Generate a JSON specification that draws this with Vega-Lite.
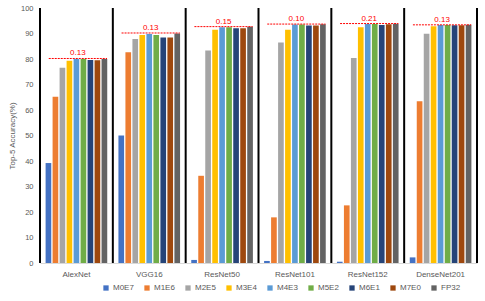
{
  "$schema": "https://vega.github.io/schema/vega-lite/v6.json",
  "width": 437,
  "height": 255,
  "autosize": {"type": "none"},
  "padding": {"left": 40, "top": 8, "right": 8, "bottom": 38},
  "background": "white",
  "config": {
    "view": {"stroke": null},
    "font": "Liberation Sans",
    "axisX": {"labelAngle": 0, "labelFontSize": 8, "labelColor": "#595959", "ticks": false, "domainColor": "#d9d9d9", "labelPadding": 7, "title": null},
    "axisY": {"titleFontSize": 8, "titleFontWeight": "normal", "titleColor": "#595959", "titlePadding": 4, "labelFontSize": 7.5, "labelColor": "#595959", "labelPadding": 7, "ticks": false, "domain": false, "grid": false}
  },
  "datasets": {
    "acc": [
      {"model": "AlexNet", "fmt": "M0E7", "acc": 39.2},
      {"model": "AlexNet", "fmt": "M1E6", "acc": 65.2},
      {"model": "AlexNet", "fmt": "M2E5", "acc": 76.6},
      {"model": "AlexNet", "fmt": "M3E4", "acc": 79.3},
      {"model": "AlexNet", "fmt": "M4E3", "acc": 80.0},
      {"model": "AlexNet", "fmt": "M5E2", "acc": 80.0},
      {"model": "AlexNet", "fmt": "M6E1", "acc": 79.6},
      {"model": "AlexNet", "fmt": "M7E0", "acc": 79.5},
      {"model": "AlexNet", "fmt": "FP32", "acc": 80.0},
      {"model": "VGG16", "fmt": "M0E7", "acc": 50.0},
      {"model": "VGG16", "fmt": "M1E6", "acc": 82.6},
      {"model": "VGG16", "fmt": "M2E5", "acc": 87.8},
      {"model": "VGG16", "fmt": "M3E4", "acc": 89.4},
      {"model": "VGG16", "fmt": "M4E3", "acc": 89.8},
      {"model": "VGG16", "fmt": "M5E2", "acc": 89.4},
      {"model": "VGG16", "fmt": "M6E1", "acc": 88.4},
      {"model": "VGG16", "fmt": "M7E0", "acc": 88.4},
      {"model": "VGG16", "fmt": "FP32", "acc": 90.0},
      {"model": "ResNet50", "fmt": "M0E7", "acc": 1.2},
      {"model": "ResNet50", "fmt": "M1E6", "acc": 34.2},
      {"model": "ResNet50", "fmt": "M2E5", "acc": 83.3},
      {"model": "ResNet50", "fmt": "M3E4", "acc": 91.5},
      {"model": "ResNet50", "fmt": "M4E3", "acc": 92.5},
      {"model": "ResNet50", "fmt": "M5E2", "acc": 92.5},
      {"model": "ResNet50", "fmt": "M6E1", "acc": 92.1},
      {"model": "ResNet50", "fmt": "M7E0", "acc": 92.1},
      {"model": "ResNet50", "fmt": "FP32", "acc": 92.6},
      {"model": "ResNet101", "fmt": "M0E7", "acc": 0.8},
      {"model": "ResNet101", "fmt": "M1E6", "acc": 17.9},
      {"model": "ResNet101", "fmt": "M2E5", "acc": 86.5},
      {"model": "ResNet101", "fmt": "M3E4", "acc": 91.5},
      {"model": "ResNet101", "fmt": "M4E3", "acc": 93.5},
      {"model": "ResNet101", "fmt": "M5E2", "acc": 93.5},
      {"model": "ResNet101", "fmt": "M6E1", "acc": 93.1},
      {"model": "ResNet101", "fmt": "M7E0", "acc": 93.1},
      {"model": "ResNet101", "fmt": "FP32", "acc": 93.6},
      {"model": "ResNet152", "fmt": "M0E7", "acc": 0.5},
      {"model": "ResNet152", "fmt": "M1E6", "acc": 22.6},
      {"model": "ResNet152", "fmt": "M2E5", "acc": 80.4},
      {"model": "ResNet152", "fmt": "M3E4", "acc": 92.5},
      {"model": "ResNet152", "fmt": "M4E3", "acc": 93.7},
      {"model": "ResNet152", "fmt": "M5E2", "acc": 93.7},
      {"model": "ResNet152", "fmt": "M6E1", "acc": 93.3},
      {"model": "ResNet152", "fmt": "M7E0", "acc": 93.6},
      {"model": "ResNet152", "fmt": "FP32", "acc": 93.8},
      {"model": "DenseNet201", "fmt": "M0E7", "acc": 2.2},
      {"model": "DenseNet201", "fmt": "M1E6", "acc": 63.4},
      {"model": "DenseNet201", "fmt": "M2E5", "acc": 89.9},
      {"model": "DenseNet201", "fmt": "M3E4", "acc": 92.8},
      {"model": "DenseNet201", "fmt": "M4E3", "acc": 93.3},
      {"model": "DenseNet201", "fmt": "M5E2", "acc": 93.3},
      {"model": "DenseNet201", "fmt": "M6E1", "acc": 93.2},
      {"model": "DenseNet201", "fmt": "M7E0", "acc": 93.2},
      {"model": "DenseNet201", "fmt": "FP32", "acc": 93.4}
    ],
    "refs": [
      {"model": "AlexNet", "acc": 80.2, "label": "0.13"},
      {"model": "VGG16", "acc": 90.2, "label": "0.13"},
      {"model": "ResNet50", "acc": 92.7, "label": "0.15"},
      {"model": "ResNet101", "acc": 93.7, "label": "0.10"},
      {"model": "ResNet152", "acc": 93.9, "label": "0.21"},
      {"model": "DenseNet201", "acc": 93.4, "label": "0.13"}
    ],
    "last": [{"model": "DenseNet201"}]
  },
  "layer": [
    {
      "data": {"name": "acc"},
      "mark": {"type": "bar"},
      "encoding": {
        "x": {
          "field": "model", "type": "nominal",
          "scale": {"domain": ["AlexNet", "VGG16", "ResNet50", "ResNet101", "ResNet152", "DenseNet201"], "paddingInner": 0, "paddingOuter": 0}
        },
        "xOffset": {
          "field": "fmt", "type": "nominal",
          "scale": {"domain": ["M0E7", "M1E6", "M2E5", "M3E4", "M4E3", "M5E2", "M6E1", "M7E0", "FP32"], "paddingInner": 0.19, "paddingOuter": 0.8}
        },
        "y": {
          "field": "acc", "type": "quantitative",
          "scale": {"domain": [0, 100], "nice": false},
          "title": "Top-5 Accuracy(%)",
          "axis": {"values": [0, 10, 20, 30, 40, 50, 60, 70, 80, 90, 100], "labelOverlap": false}
        },
        "color": {
          "field": "fmt", "type": "nominal",
          "scale": {
            "domain": ["M0E7", "M1E6", "M2E5", "M3E4", "M4E3", "M5E2", "M6E1", "M7E0", "FP32"],
            "range": ["#4472C4", "#ED7D31", "#A5A5A5", "#FFC000", "#5B9BD5", "#70AD47", "#264478", "#9E480E", "#636363"]
          },
          "legend": {"title": null, "orient": "none", "direction": "horizontal", "columns": 9, "legendX": 62, "legendY": 276, "symbolType": "square", "symbolSize": 28, "symbolStrokeWidth": 0, "labelFontSize": 8, "labelColor": "#595959", "columnPadding": 9, "labelOffset": 3}
        }
      }
    },
    {
      "data": {"name": "refs"},
      "mark": {"type": "rule", "color": "black", "strokeWidth": 2},
      "encoding": {
        "x": {"field": "model", "type": "nominal", "bandPosition": 0}
      }
    },
    {
      "data": {"name": "last"},
      "mark": {"type": "rule", "color": "black", "strokeWidth": 2},
      "encoding": {
        "x": {"field": "model", "type": "nominal", "bandPosition": 1}
      }
    },
    {
      "data": {"name": "refs"},
      "mark": {"type": "rule", "color": "#ff0000", "strokeWidth": 1, "strokeDash": [2, 1]},
      "encoding": {
        "x": {"field": "model", "type": "nominal", "bandPosition": 0.12},
        "x2": {"field": "model", "bandPosition": 0.92},
        "y": {"field": "acc", "type": "quantitative", "title": "Top-5 Accuracy(%)", "axis": {"values": [0, 10, 20, 30, 40, 50, 60, 70, 80, 90, 100], "labelOverlap": false}}
      }
    },
    {
      "data": {"name": "refs"},
      "mark": {"type": "text", "color": "#ff0000", "fontSize": 8, "baseline": "bottom", "dy": -1},
      "encoding": {
        "x": {"field": "model", "type": "nominal", "bandPosition": 0.52},
        "y": {"field": "acc", "type": "quantitative", "title": "Top-5 Accuracy(%)", "axis": {"values": [0, 10, 20, 30, 40, 50, 60, 70, 80, 90, 100], "labelOverlap": false}},
        "text": {"field": "label"}
      }
    }
  ]
}
